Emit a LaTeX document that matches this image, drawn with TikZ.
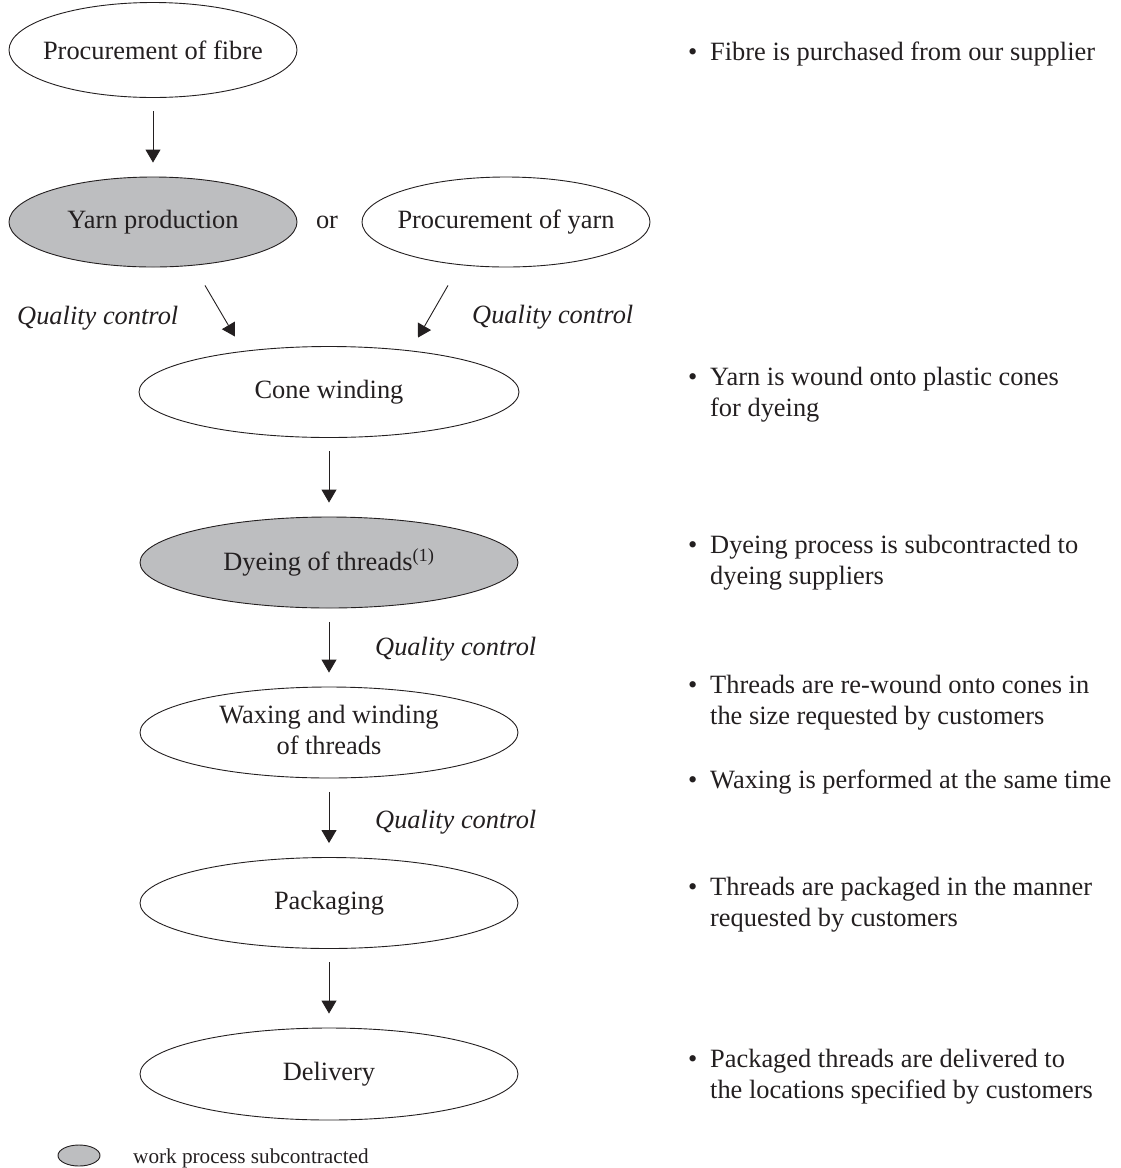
\documentclass[tikz,border=0pt]{standalone}
\usepackage{fontspec}
\setmainfont{Liberation Serif}
\usetikzlibrary{shapes.geometric,arrows.meta,calc}
\definecolor{subgrey}{RGB}{189,190,192}
\definecolor{ink}{RGB}{35,31,32}
\newcommand{\mainfs}{\fontsize{26.4}{31.5}\selectfont}
\newcommand{\legfs}{\fontsize{21.2}{25}\selectfont}
\newcommand{\bul}{\makebox[22pt][l]{•}}
\newcommand{\nowidth}[1]{\makebox[0pt][c]{#1}}
\begin{document}
\begin{tikzpicture}[x=1pt,y=-1pt,
  proc/.style={ellipse, draw=ink, line width=0.9pt, inner sep=0pt, font=\mainfs, text=ink, align=center},
  subproc/.style={proc, fill=subgrey},
  arr/.style={draw=ink, line width=0.9pt, -{Triangle[length=13pt,width=15pt]}},
  varr/.style={arr, shorten <=13.5pt, shorten >=14pt},
  qc/.style={font=\mainfs\itshape, text=ink, inner sep=0pt, anchor=base west},
  note/.style={font=\mainfs, text=ink, inner sep=0pt, anchor=base west}]
\useasboundingbox (0,0) rectangle (1121,1168);

% process nodes
\node[proc, minimum width=288pt, minimum height=95pt] (fibre) at (153,50) {\nowidth{Procurement of fibre}};
\node[subproc, minimum width=288pt, minimum height=90pt] (yarnp) at (153,222) {\nowidth{Yarn production}};
\node[note, anchor=center] (ortext) at (327,222) {or};
\node[proc, minimum width=288pt, minimum height=90pt] (procyarn) at (506,222) {\nowidth{Procurement of yarn}};
\node[proc, minimum width=380pt, minimum height=91pt] (cone) at (329,392) {\nowidth{Cone winding}};
\node[subproc, minimum width=378pt, minimum height=91pt] (dye) at (329,562.5) {\nowidth{Dyeing of threads\textsuperscript{(1)}}};
\node[proc, minimum width=378pt, minimum height=91pt] (wax) at (329,732.5) {\nowidth{\begin{tabular}{@{}c@{}}Waxing and winding\\of threads\end{tabular}}};
\node[proc, minimum width=378pt, minimum height=91pt] (pack) at (329,903) {\nowidth{Packaging}};
\node[proc, minimum width=378pt, minimum height=92pt] (deliv) at (329,1074) {\nowidth{Delivery}};

% connectors
\draw[varr] (fibre.south) -- (yarnp.north);
\coordinate (qa1) at ($(yarnp.south)+(52,18)$);
\coordinate (qa2) at ($(cone.north)+(-94,-9.5)$);
\coordinate (qb1) at ($(procyarn.south)+(-58,18)$);
\coordinate (qb2) at ($(cone.north)+(89,-8.5)$);
\draw[arr] (qa1) -- (qa2);
\draw[arr] (qb1) -- (qb2);
\draw[varr] (cone.south) -- (dye.north);
\draw[varr] (dye.south) -- (wax.north);
\draw[varr] (wax.south) -- (pack.north);
\draw[varr] (pack.south) -- (deliv.north);

% quality control labels
\node[qc] (qcl) at (17,324) {Quality control};
\node[qc] (qcr) at (472,323) {Quality control};
\node[qc] (qc1) at (375,655) {Quality control};
\node[qc] (qc2) at (375,828) {Quality control};

% notes
\node[note] (n1) at (688,60) {\bul Fibre is purchased from our supplier};
\node[note] (n2) at (688,385) {\begin{tabular}[t]{@{}l@{}l@{}}\bul & Yarn is wound onto plastic cones\\ & for dyeing\end{tabular}};
\node[note] (n3) at (688,553) {\begin{tabular}[t]{@{}l@{}l@{}}\bul & Dyeing process is subcontracted to\\ & dyeing suppliers\end{tabular}};
\node[note] (n4) at (688,693) {\begin{tabular}[t]{@{}l@{}l@{}}\bul & Threads are re-wound onto cones in\\ & the size requested by customers\end{tabular}};
\node[note] (n5) at (688,788) {\bul Waxing is performed at the same time};
\node[note] (n6) at (688,895) {\begin{tabular}[t]{@{}l@{}l@{}}\bul & Threads are packaged in the manner\\ & requested by customers\end{tabular}};
\node[note] (n7) at (688,1067) {\begin{tabular}[t]{@{}l@{}l@{}}\bul & Packaged threads are delivered to\\ & the locations specified by customers\end{tabular}};

% legend
\node[ellipse, draw=ink, line width=0.9pt, fill=subgrey, inner sep=0pt, minimum width=42pt, minimum height=21pt] (legell) at (79,1155.5) {};
\node[font=\legfs, text=ink, inner sep=0pt, anchor=base west] (legtxt) at (133,1163) {work process subcontracted};
\end{tikzpicture}
\end{document}
